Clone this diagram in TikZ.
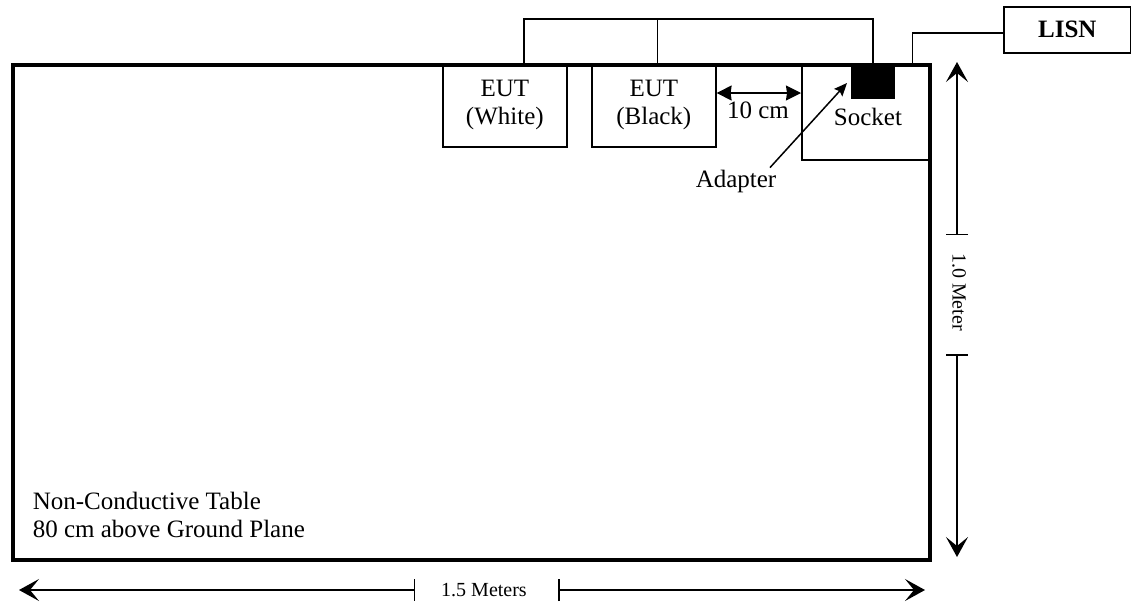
\documentclass[tikz,border=0pt]{standalone}
\usepackage{fontspec}
\setmainfont{Liberation Serif}
\usetikzlibrary{positioning}
\usetikzlibrary{arrows.meta}
\usetikzlibrary{calc}

\begin{document}
\begin{tikzpicture}[x=1pt, y=-1pt, line width=1.5pt, font=\fontsize{25}{28}\selectfont]
	\tikzstyle{box}=[draw=black, rectangle, line width=1.6pt, inner sep=0pt, anchor=north west]
	\tikzstyle{eut}=[box, minimum width=124pt, minimum height=83pt, align=center]
	\tikzstyle{dim}=[font=\fontsize{20}{24}\selectfont, inner sep=0pt]
	\tikzstyle{bigtip}=[{Bar[width=22pt]}-{Stealth[length=20pt,width=22pt,inset=9pt]}]
	\tikzstyle{gaptip}=[{Stealth[length=15pt,width=15pt,inset=1pt]}-{Stealth[length=15pt,width=15pt,inset=1pt]}]

	\useasboundingbox (0,0) rectangle (1131,603);

	% table and equipment
	\node[box, line width=3.5pt, minimum width=917pt, minimum height=495pt] (tbl) at (11,63) {};
	\node[eut] (white) at (442,63) {EUT\\(White)};
	\node[eut] (black) at (591,63) {EUT\\(Black)};
	\node[box, minimum width=127pt, minimum height=96pt] (sock) at (801,63) {};
	\node[box, fill=black, minimum width=42pt, minimum height=34pt] (adapt) at (851,63) {};
	\node[anchor=base] (socklbl) at (868,125) {Socket};
	\node[box, minimum width=127pt, minimum height=46pt, font=\fontsize{25}{28}\selectfont\bfseries] (lisn) at (1003,6) {LISN};

	% power wiring
	\coordinate (bus) at (524,19);
	\draw (bus |- white.north) -- (bus) -| (adapt.north);
	\draw ([xshift=3.5pt]black.north) -- ([xshift=3.5pt]black.north |- bus);
	\draw ([xshift=-19pt]tbl.north east) |- ([yshift=-3pt]lisn.west);

	% spacing and adapter
	\coordinate (gapy) at (0,93);
	\draw[gaptip] (black.east |- gapy) -- (sock.west |- gapy);
	\node[anchor=base] (gaplbl) at (758,118) {10 cm};
	\node[anchor=base] (adlbl) at (736,187) {Adapter};
	\draw[-{Stealth[length=13pt,width=11pt,inset=2pt]}] ($(adlbl.north)+(34,2)$) -- (847,83);

	\node[anchor=north west, align=left, inner sep=0pt] (tbllbl) at (32,491) {Non-Conductive Table\\80 cm above Ground Plane};

	% dimensions
	\node[dim, rotate=-90] (vlab) at (959,292) {1.0 Meter};
	\coordinate (vt1) at (957,235);
	\coordinate (vt2) at (957,354);
	\draw[bigtip] (vt1) -- (957,62);
	\draw[bigtip] (vt2) -- (957,557);
	\node[dim] (hlab) at (484,590) {1.5 Meters};
	\coordinate (ht1) at (415,590);
	\coordinate (ht2) at (558,590);
	\draw[bigtip] (ht1) -- (19,590);
	\draw[bigtip] (ht2) -- (925,590);
\end{tikzpicture}
\end{document}
